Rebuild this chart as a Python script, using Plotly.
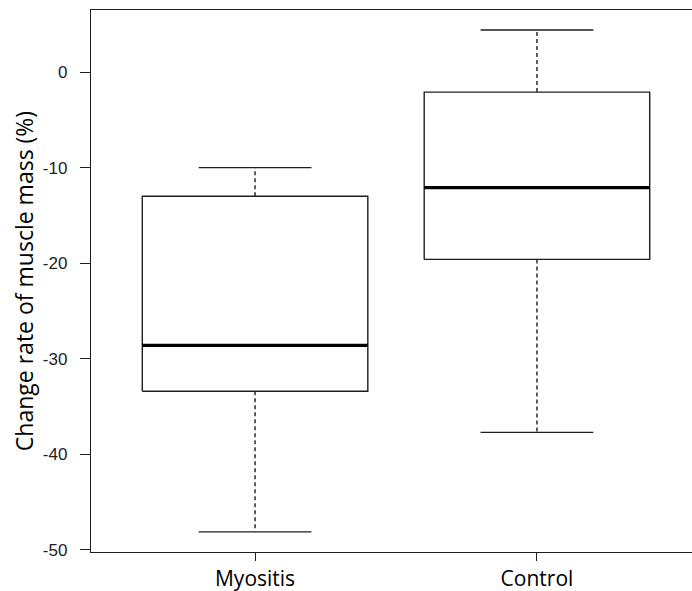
import plotly.graph_objects as go

categories = ["Myositis", "Control"]
positions = [1, 2]
upper_whisker = [-10.0, 4.4]
q3 = [-13.0, -2.1]
median = [-28.6, -12.1]
q1 = [-33.4, -19.6]
lower_whisker = [-48.1, -37.7]
y_ticks = [-50, -40, -30, -20, -10, 0]
y_tick_labels = ["-50", "-40", "-30", "-20", "-10", "0"]

half_box = 0.4
half_cap = 0.2
ink = "#1e1e1e"

fig = go.Figure()
for i, x in enumerate(positions):
    # box
    fig.add_trace(go.Scatter(
        x=[x - half_box, x + half_box, x + half_box, x - half_box, x - half_box],
        y=[q1[i], q1[i], q3[i], q3[i], q1[i]],
        mode="lines", line=dict(color=ink, width=1.4), hoverinfo="skip", showlegend=False))
    # median
    fig.add_trace(go.Scatter(
        x=[x - half_box, x + half_box], y=[median[i], median[i]],
        mode="lines", line=dict(color="#000000", width=3.2), showlegend=False))
    # whiskers (dashed)
    fig.add_trace(go.Scatter(
        x=[x, x, None, x, x], y=[q3[i], upper_whisker[i], None, q1[i], lower_whisker[i]],
        mode="lines", line=dict(color=ink, width=1.4, dash="4px,3px"), showlegend=False))
    # caps
    fig.add_trace(go.Scatter(
        x=[x - half_cap, x + half_cap, None, x - half_cap, x + half_cap],
        y=[upper_whisker[i], upper_whisker[i], None, lower_whisker[i], lower_whisker[i]],
        mode="lines", line=dict(color=ink, width=1.4), showlegend=False))

fig.update_layout(
    width=692, height=591,
    margin=dict(l=91, r=0, t=10, b=39),
    paper_bgcolor="white", plot_bgcolor="white",
    showlegend=False,
    xaxis=dict(
        range=[0.418, 2.55], tickvals=positions, ticktext=categories,
        showgrid=False, zeroline=False,
        showline=True, mirror=True, linecolor=ink, linewidth=1.4,
        ticks="outside", ticklen=8, tickcolor=ink, tickwidth=1.4,
        tickfont=dict(family="Open Sans, Lato, sans-serif", size=21, color="#000"),
    ),
    yaxis=dict(
        range=[-50.21, 6.49], tickvals=y_ticks, ticktext=y_tick_labels,
        showgrid=False, zeroline=False,
        showline=True, linecolor=ink, linewidth=1.4,
        ticks="outside", ticklen=10, tickcolor=ink, tickwidth=1.4,
        ticklabelstandoff=9,
        tickfont=dict(family="Liberation Sans, Arial, sans-serif", size=17, color="#222"),
        title=dict(text="Change rate of muscle mass (%)",
                   font=dict(family="Open Sans, Lato, sans-serif", size=23, color="#000"),
                   standoff=2),
    ),
)

fig.write_html("out.html",
               config={"displayModeBar": False},
               post_script="document.body.style.margin='0';document.body.style.overflow='hidden';")
